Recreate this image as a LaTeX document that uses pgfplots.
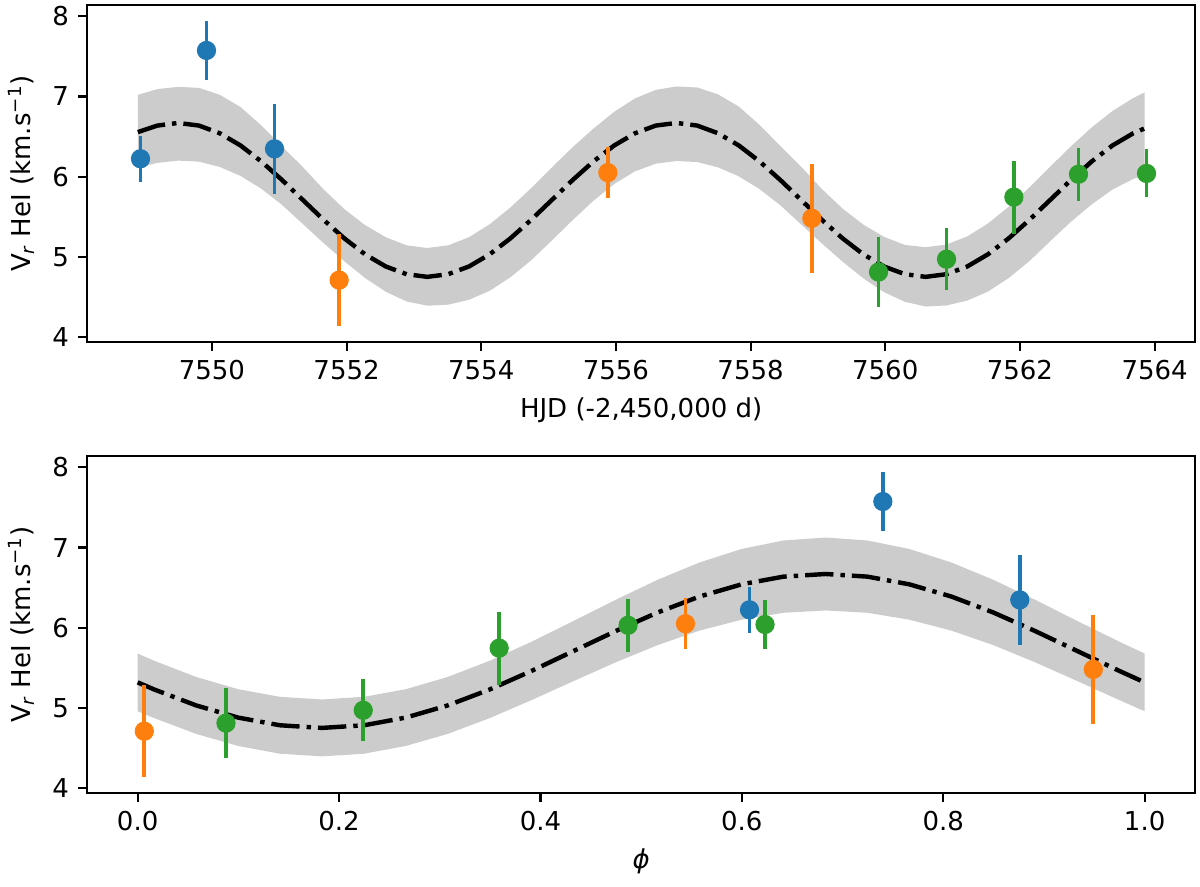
\documentclass[border=0pt]{standalone}
\usepackage{fontspec}
\setmainfont{DejaVu Sans}
\usepackage{pgfplots}
\pgfplotsset{compat=1.18}
\definecolor{cA}{HTML}{1F77B4}
\definecolor{cB}{HTML}{FF7F0E}
\definecolor{cC}{HTML}{2CA02C}
\definecolor{band}{HTML}{CCCCCC}
\pgfplotsset{
  myax/.style={
    scale only axis, width=426pt, height=129.5pt,
    axis line style={line width=0.8pt},
    tick align=outside, major tick length=3.5pt,
    every tick/.style={black, line width=0.8pt},
    xtick pos=bottom, ytick pos=left,
    ymin=3.94, ymax=8.14, ytick={4,5,6,7,8},
    tick label style={font=\fontsize{10}{12}\selectfont},
    label style={font=\fontsize{10}{12}\selectfont},
    /pgf/number format/assume math mode=true,
    ylabel={V\textsubscript{\itshape r} HeI (km.s\textsuperscript{−1})},
  },
  fitline/.style={black, line width=1.7pt, line cap=butt, dash pattern=on 10.9pt off 2.7pt on 1.7pt off 2.7pt},
  pts/.style={only marks, mark=*, mark size=3.5pt, color=#1, mark options={draw=none, fill=#1},
    error bars/.cd, y dir=both, y explicit, error mark=none, error bar style={line width=1.5pt, color=#1}},
}
\begin{document}
\begin{tikzpicture}
\begin{axis}[myax, at={(33.58pt,209.35pt)}, anchor=south west,
  xmin=7548.15, xmax=7564.6, xtick={7550,7552,7554,7556,7558,7560,7562,7564},
  xticklabel style={/pgf/number format/.cd, set thousands separator={}},
  xlabel={HJD (-2,450,000 d)}]
\addplot[fill=band, draw=none] coordinates {
(7548.9,7.020) (7549.192,7.092) (7549.500,7.120) (7549.808,7.107) (7550.117,7.021)
(7550.425,6.869) (7550.733,6.640) (7551.042,6.378) (7551.350,6.120) (7551.658,5.842)
(7551.967,5.595) (7552.275,5.396) (7552.583,5.244) (7552.892,5.143) (7553.200,5.110)
(7553.508,5.143) (7553.817,5.244) (7554.125,5.406) (7554.433,5.615) (7554.742,5.857)
(7555.050,6.115) (7555.358,6.368) (7555.667,6.600) (7555.975,6.809) (7556.283,6.976)
(7556.592,7.082) (7556.900,7.125) (7557.208,7.112) (7557.517,7.026) (7557.825,6.874)
(7558.133,6.645) (7558.442,6.383) (7558.750,6.125) (7559.058,5.847) (7559.367,5.600)
(7559.675,5.401) (7559.983,5.249) (7560.292,5.148) (7560.600,5.120) (7560.908,5.153)
(7561.217,5.254) (7561.525,5.416) (7561.833,5.625) (7562.142,5.867) (7562.450,6.125)
(7562.758,6.378) (7563.067,6.615) (7563.375,6.819) (7563.683,6.981) (7563.850,7.051)
(7563.850,6.021) (7563.683,5.971) (7563.375,5.839) (7563.067,5.655) (7562.758,5.438)
(7562.450,5.195) (7562.142,4.947) (7561.833,4.735) (7561.525,4.566) (7561.217,4.454)
(7560.908,4.393) (7560.600,4.380) (7560.292,4.438) (7559.983,4.559) (7559.675,4.731)
(7559.367,4.940) (7559.058,5.167) (7558.750,5.405) (7558.442,5.643) (7558.133,5.845)
(7557.825,6.004) (7557.517,6.116) (7557.208,6.182) (7556.900,6.195) (7556.592,6.162)
(7556.283,6.066) (7555.975,5.909) (7555.667,5.700) (7555.358,5.458) (7555.050,5.205)
(7554.742,4.957) (7554.433,4.745) (7554.125,4.576) (7553.817,4.464) (7553.508,4.403)
(7553.200,4.390) (7552.892,4.443) (7552.583,4.564) (7552.275,4.736) (7551.967,4.945)
(7551.658,5.172) (7551.350,5.410) (7551.042,5.648) (7550.733,5.850) (7550.425,6.009)
(7550.117,6.121) (7549.808,6.187) (7549.500,6.200) (7549.192,6.172) (7548.9,6.110)
} -- cycle;
\addplot[fitline] coordinates {
(7548.9,6.556) (7549.192,6.637) (7549.500,6.670) (7549.808,6.637) (7550.117,6.541)
(7550.425,6.389) (7550.733,6.190) (7551.042,5.958) (7551.350,5.710) (7551.658,5.462)
(7551.967,5.230) (7552.275,5.031) (7552.583,4.879) (7552.892,4.783) (7553.200,4.750)
(7553.508,4.783) (7553.817,4.879) (7554.125,5.031) (7554.433,5.230) (7554.742,5.462)
(7555.050,5.710) (7555.358,5.958) (7555.667,6.190) (7555.975,6.389) (7556.283,6.541)
(7556.592,6.637) (7556.900,6.670) (7557.208,6.637) (7557.517,6.541) (7557.825,6.389)
(7558.133,6.190) (7558.442,5.958) (7558.750,5.710) (7559.058,5.462) (7559.367,5.230)
(7559.675,5.031) (7559.983,4.879) (7560.292,4.783) (7560.600,4.750) (7560.908,4.783)
(7561.217,4.879) (7561.525,5.031) (7561.833,5.230) (7562.142,5.462) (7562.450,5.710)
(7562.758,5.958) (7563.067,6.190) (7563.375,6.389) (7563.683,6.541) (7563.850,6.601)
};
\addplot[pts=cA] coordinates {
(7548.94,6.223) +- (0,0.29)
(7549.92,7.574) +- (0,0.365)
(7550.93,6.347) +- (0,0.565)
};
\addplot[pts=cB] coordinates {
(7551.89,4.709) +- (0,0.575)
(7555.88,6.050) +- (0,0.315)
(7558.91,5.480) +- (0,0.68)
};
\addplot[pts=cC] coordinates {
(7559.90,4.810) +- (0,0.435)
(7560.91,4.970) +- (0,0.385)
(7561.91,5.745) +- (0,0.455)
(7562.87,6.030) +- (0,0.33)
(7563.88,6.040) +- (0,0.30)
};
\end{axis}

\begin{axis}[myax, at={(33.58pt,35.88pt)}, anchor=south west,
  xmin=-0.05, xmax=1.05, xtick={0,0.2,0.4,0.6,0.8,1},
  xticklabel style={/pgf/number format/.cd, fixed, fixed zerofill, precision=1},
  xlabel={\itshape ϕ}]
\addplot[fill=band, draw=none] coordinates {
(0.0000,5.678) (0.0163,5.588) (0.0580,5.386) (0.0997,5.233) (0.1413,5.138)
(0.1830,5.105) (0.2247,5.138) (0.2663,5.233) (0.3080,5.386) (0.3497,5.588)
(0.3913,5.826) (0.4330,6.085) (0.4747,6.348) (0.5163,6.598) (0.5580,6.814)
(0.5997,6.982) (0.6413,7.088) (0.6830,7.125) (0.7247,7.088) (0.7663,6.982)
(0.8080,6.814) (0.8497,6.598) (0.8913,6.348) (0.9330,6.085) (0.9747,5.826)
(1.0000,5.678)
(1.0000,4.958) (0.9747,5.098) (0.9330,5.335) (0.8913,5.568) (0.8497,5.783)
(0.8080,5.964) (0.7663,6.100) (0.7247,6.186) (0.6830,6.215) (0.6413,6.186)
(0.5997,6.100) (0.5580,5.964) (0.5163,5.783) (0.4747,5.568) (0.4330,5.335)
(0.3913,5.098) (0.3497,4.873) (0.3080,4.676) (0.2663,4.525) (0.2247,4.428)
(0.1830,4.395) (0.1413,4.428) (0.0997,4.525) (0.0580,4.676) (0.0163,4.873)
(0.0000,4.958)
} -- cycle;
\addplot[fitline] coordinates {
(0.0000,5.318) (0.0163,5.230) (0.0580,5.031) (0.0997,4.879) (0.1413,4.783)
(0.1830,4.750) (0.2247,4.783) (0.2663,4.879) (0.3080,5.031) (0.3497,5.230)
(0.3913,5.462) (0.4330,5.710) (0.4747,5.958) (0.5163,6.190) (0.5580,6.389)
(0.5997,6.541) (0.6413,6.637) (0.6830,6.670) (0.7247,6.637) (0.7663,6.541)
(0.8080,6.389) (0.8497,6.190) (0.8913,5.958) (0.9330,5.710) (0.9747,5.462)
(1.0000,5.318)
};
\addplot[pts=cA] coordinates {
(0.6076,6.223) +- (0,0.29)
(0.7400,7.574) +- (0,0.365)
(0.8760,6.347) +- (0,0.565)
};
\addplot[pts=cB] coordinates {
(0.0066,4.709) +- (0,0.575)
(0.5440,6.050) +- (0,0.315)
(0.9490,5.480) +- (0,0.68)
};
\addplot[pts=cC] coordinates {
(0.0877,4.810) +- (0,0.435)
(0.2240,4.970) +- (0,0.385)
(0.3590,5.745) +- (0,0.455)
(0.4870,6.030) +- (0,0.33)
(0.6230,6.040) +- (0,0.30)
};
\end{axis}
\pgfresetboundingbox
\path[use as bounding box] (0,0) rectangle (461.5pt,340.8pt);
\end{tikzpicture}
\end{document}
